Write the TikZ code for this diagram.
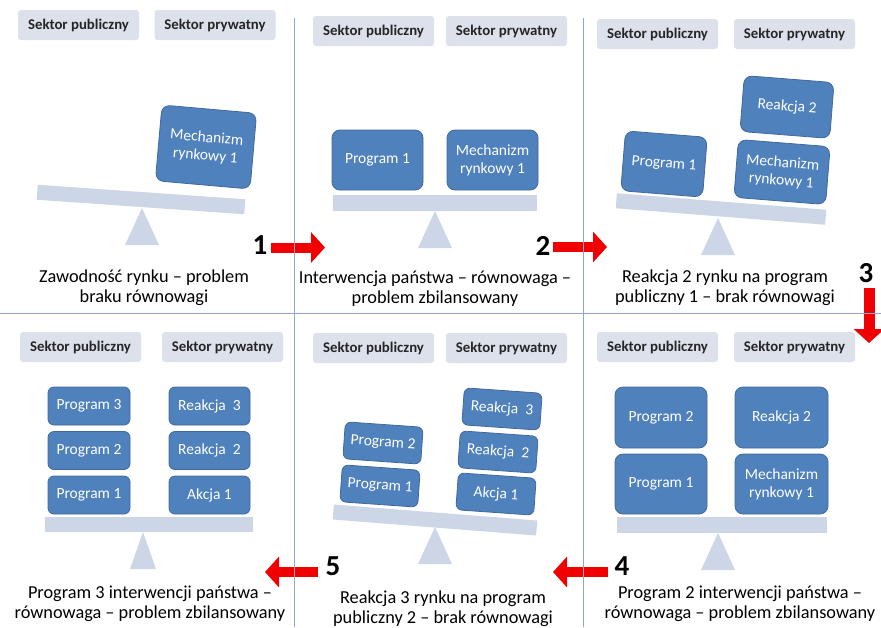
\documentclass[tikz,border=0pt]{standalone}
\usepackage{fontspec}
\setmainfont{Carlito}
\usepackage{xcolor}
\usepackage{tikz}
\usetikzlibrary{arrows.meta, calc}

\definecolor{blockblue}{HTML}{4F81BD}
\definecolor{blockedge}{HTML}{41699B}
\definecolor{headfill}{HTML}{DCE1EB}
\definecolor{headtext}{HTML}{262626}
\definecolor{beamfill}{HTML}{CDD6E6}
\definecolor{divider}{HTML}{8DA9CF}
\definecolor{arrowred}{HTML}{F00000}

\tikzset{
	sector/.style={fill=headfill, rounded corners=3pt, text=headtext, inner sep=0pt,
		minimum width=121, minimum height=30, font=\fontsize{14.8}{16}\selectfont\bfseries},
	block/.style={fill=blockblue, draw=blockedge, line width=0.8pt, rounded corners=8pt,
		text=white, align=center, inner sep=0pt, font=\fontsize{15.5}{18}\selectfont},
	beam/.style={fill=beamfill, inner sep=0pt, minimum height=15},
	caption/.style={align=center, anchor=base, inner sep=0pt, font=\fontsize{18.3}{19.5}\selectfont},
	stepno/.style={font=\fontsize{29}{30}\selectfont\bfseries, inner sep=0pt},
	redarrow/.style={draw=arrowred, line width=10pt, -{Triangle[length=14pt, width=30pt]}}
}

% support under a beam: apex, half base width
\newcommand{\Fulcrum}[2][17]{
	\def\lhalf{#1}
	\fill[beamfill] (#2) -- ++(-\lhalf,37) -- ++(2*\lhalf,0) -- cycle;
}

% pair of sector labels: prefix, centre of public, centre of private
\newcommand{\Sectors}[3]{
	\node[sector] (#1pub) at (#2) {Sektor publiczny};
	\node[sector] (#1priv) at (#3) {Sektor prywatny};
}

\begin{document}
\begin{tikzpicture}[x=1pt, y=-1pt]
	\useasboundingbox (0,0) rectangle (881,627);

	% panel 1
	\Sectors{a}{78.5,25}{215,25}
	\node[block, minimum width=95, minimum height=76, rotate=-5] (mech1) at (206,147) {Mechanizm\\rynkowy 1};
	\node[beam, minimum width=208, rotate=-4] (beam1) at (141,199.5) {};
	\coordinate (apex1) at (142,208);
	\Fulcrum{apex1}
	\node[caption] (cap1) at (144,302) {Zawodność rynku – problem\\braku równowagi};

	% panel 2
	\Sectors{b}{373.5,31}{506.5,31}
	\node[block, minimum width=91, minimum height=60] (prog21) at (377.5,160) {Program 1};
	\node[block, minimum width=91, minimum height=60] (mech21) at (492.5,160) {Mechanizm\\rynkowy 1};
	\node[beam, minimum width=204, minimum height=16] (beam2) at (435,203) {};
	\coordinate (apex2) at (435,211);
	\Fulcrum{apex2}
	\node[caption] (cap2) at (435,303) {Interwencja państwa – równowaga –\\problem zbilansowany};

	% panel 3
	\Sectors{c}{657.5,34}{794.5,34}
	\node[block, minimum width=82, minimum height=60, rotate=-4.5] (prog31) at (664,164) {Program 1};
	\node[block, minimum width=90, minimum height=56, rotate=-4.5] (reak32) at (787,107) {Reakcja 2};
	\node[block, minimum width=92, minimum height=58, rotate=-4.5] (mech31) at (782,172) {Mechanizm\\rynkowy 1};
	\node[beam, minimum width=210, rotate=-4.5] (beam3) at (721,209) {};
	\coordinate (apex3) at (718,218);
	\Fulcrum{apex3}
	\node[caption] (cap3) at (725,302) {Reakcja 2 rynku na program\\publiczny 1 – brak równowagi};

	% panel 4
	\Sectors{d}{80.5,347}{222.5,347}
	\node[block, minimum width=82, minimum height=38, rounded corners=6pt] (prog43) at (89,406) {Program 3};
	\node[block, minimum width=82, minimum height=38, rounded corners=6pt] (prog42) at (89,450.5) {Program 2};
	\node[block, minimum width=82, minimum height=38, rounded corners=6pt] (prog41) at (89,495) {Program 1};
	\node[block, minimum width=81, minimum height=38, rounded corners=6pt] (reak43) at (209.5,406) {Reakcja~~3};
	\node[block, minimum width=81, minimum height=38, rounded corners=6pt] (reak42) at (209.5,450.5) {Reakcja~~2};
	\node[block, minimum width=81, minimum height=38, rounded corners=6pt] (akcja41) at (209.5,495) {Akcja 1};
	\node[beam, minimum width=208] (beam4) at (149,524.5) {};
	\coordinate (apex4) at (143,532);
	\Fulcrum[13]{apex4}
	\node[caption] (cap4) at (150,618) {Program 3 interwencji państwa –\\równowaga – problem zbilansowany};

	% panel 5
	\Sectors{e}{373.5,348}{506.5,348}
	\node[block, minimum width=78, minimum height=37, rounded corners=6pt, rotate=-4] (prog52) at (383,443) {Program 2};
	\node[block, minimum width=78, minimum height=37, rounded corners=6pt, rotate=-4] (prog51) at (380,486) {Program 1};
	\node[block, minimum width=78, minimum height=37, rounded corners=6pt, rotate=-4] (reak53) at (502,409) {Reakcja~~3};
	\node[block, minimum width=78, minimum height=37, rounded corners=6pt, rotate=-4] (reak52) at (498,452) {Reakcja~~2};
	\node[block, minimum width=78, minimum height=37, rounded corners=6pt, rotate=-4] (akcja51) at (496,494) {Akcja 1};
	\node[beam, minimum width=204, rotate=-4.5] (beam5) at (435,520) {};
	\coordinate (apex5) at (435,527);
	\Fulcrum{apex5}
	\node[caption] (cap5) at (443,623) {Reakcja 3 rynku na program\\publiczny 2 – brak równowagi};

	% panel 6
	\Sectors{f}{657.5,347}{794.5,347}
	\node[block, minimum width=92, minimum height=61] (prog62) at (661,417.5) {Program 2};
	\node[block, minimum width=92, minimum height=60] (prog61) at (661,484) {Program 1};
	\node[block, minimum width=93, minimum height=61] (reak62) at (781.5,417.5) {Reakcja 2};
	\node[block, minimum width=93, minimum height=60] (mech61) at (781.5,484) {Mechanizm\\rynkowy 1};
	\node[beam, minimum width=210, minimum height=16] (beam6) at (722,525) {};
	\coordinate (apex6) at (718,533);
	\Fulcrum{apex6}
	\node[caption] (cap6) at (740,618) {Program 2 interwencji państwa –\\równowaga – problem zbilansowany};

	% steps
	\node[stepno] (n1) at (260,245) {1};
	\node[stepno] (n2) at (543,246) {2};
	\node[stepno] (n3) at (866,273) {3};
	\node[stepno] (n4) at (622,566) {4};
	\node[stepno] (n5) at (333,566) {5};

	\coordinate (a1s) at (271,247.5);
	\coordinate (a1e) at (325,247.5);
	\coordinate (a2s) at (553,247);
	\coordinate (a2e) at (607,247);
	\coordinate (a3s) at (869,288);
	\coordinate (a3e) at (869,343);
	\coordinate (a4s) at (608,572);
	\coordinate (a4e) at (553,572);
	\coordinate (a5s) at (318,572);
	\coordinate (a5e) at (265,572);
	\draw[redarrow] (a1s) -- (a1e);
	\draw[redarrow] (a2s) -- (a2e);
	\draw[redarrow, line width=11pt] (a3s) -- (a3e);
	\draw[redarrow] (a4s) -- (a4e);
	\draw[redarrow] (a5s) -- (a5e);

	% frame lines
	\draw[divider, line width=0.9pt] (294,18) -- (294,627);
	\draw[divider, line width=0.9pt] (583.5,18) -- (583.5,627);
	\draw[divider, line width=0.9pt] (0,313) -- (881,313);

\end{tikzpicture}
\end{document}
